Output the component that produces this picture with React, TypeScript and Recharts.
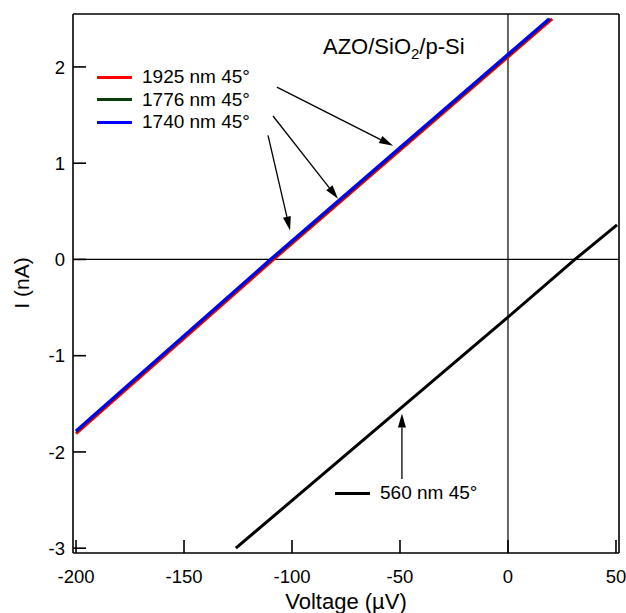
import React from "react";
import { LineChart, Line, XAxis, YAxis, ReferenceLine } from "recharts";

const X_TICKS = [-200, -150, -100, -50, 0, 50];
const Y_TICKS = [-3, -2, -1, 0, 1, 2];

// voltage (µV) / current (nA)
const V_1925 = [-200, -108.5, 20.5];
const I_1925 = [-1.81, 0, 2.5];
const V_1776 = [-200, -109.5, 19.5];
const I_1776 = [-1.79, 0, 2.5];
const V_1740 = [-200, -110, 19];
const I_1740 = [-1.78, 0, 2.5];
const V_560 = [-126, 0, 31, 50.5];
const I_560 = [-3.0, -0.6, 0, 0.36];

const NAMES = ["1925 nm 45°", "1776 nm 45°", "1740 nm 45°", "560 nm 45°"];

// annotation arrows: tail (v, i) -> head (v, i)
const ARROW_TAIL_V = [-107, -108.8, -111.1, -49.1];
const ARROW_TAIL_I = [1.79, 1.49, 1.29, -2.28];
const ARROW_HEAD_V = [-53.2, -78.7, -100.9, -49.1];
const ARROW_HEAD_I = [1.18, 0.63, 0.3, -1.6];

const COLORS = ["#ff0000", "#0b3d0b", "#0000ff", "#000000"];
const FONT = "'Liberation Sans', Arial, sans-serif";

const toPts = (v: number[], i: number[]) => v.map((x, k) => ({ v: x, i: i[k] }));
const SERIES = [
  toPts(V_1925, I_1925),
  toPts(V_1776, I_1776),
  toPts(V_1740, I_1740),
  toPts(V_560, I_560),
];

function Arrow(props: any) {
  const { x1, y1, x2, y2 } = props;
  if (x1 == null) return null;
  const dx = x2 - x1;
  const dy = y2 - y1;
  const len = Math.sqrt(dx * dx + dy * dy) || 1;
  const ux = dx / len;
  const uy = dy / len;
  const hl = 14;
  const hw = 4;
  const bx = x2 - ux * hl;
  const by = y2 - uy * hl;
  return (
    <g>
      <line x1={x1} y1={y1} x2={bx} y2={by} stroke="#000" strokeWidth={1.3} />
      <polygon
        points={`${x2},${y2} ${bx - uy * hw},${by + ux * hw} ${bx + uy * hw},${by - ux * hw}`}
        fill="#000"
      />
    </g>
  );
}

function Swatch({ color, label }: { color: string; label: string }) {
  return (
    <div style={{ display: "flex", alignItems: "center", height: 22.5 }}>
      <span style={{ width: 35, height: 3, background: color, display: "inline-block" }} />
      <span style={{ marginLeft: 10 }}>{label}</span>
    </div>
  );
}

export default function App() {
  const axisLine = { stroke: "#000", strokeWidth: 1.6 };
  const tickStyle = { fill: "#000", fontSize: 18.5, fontFamily: FONT };
  return (
    <div
      style={{
        position: "absolute",
        left: 0,
        top: 0,
        width: 626,
        height: 613,
        background: "#fff",
        fontFamily: FONT,
        color: "#000",
      }}
    >
      <LineChart width={626} height={613} margin={{ top: 0, right: 0, bottom: 0, left: 0 }}>
        <XAxis
          type="number"
          dataKey="v"
          domain={[-201.4, 51.4]}
          ticks={X_TICKS}
          allowDataOverflow
          height={60}
          tickSize={-13}
          tickMargin={30}
          axisLine={axisLine}
          tickLine={axisLine}
          tick={tickStyle}
          label={{
            value: "Voltage (µV)",
            position: "insideBottom",
            offset: 4,
            style: { fill: "#000", fontSize: 22, fontFamily: FONT },
          }}
        />
        <XAxis
          xAxisId="top"
          orientation="top"
          type="number"
          domain={[-201.4, 51.4]}
          ticks={X_TICKS}
          allowDataOverflow
          height={14}
          tickSize={-13}
          axisLine={axisLine}
          tickLine={axisLine}
          tick={false}
        />
        <YAxis
          type="number"
          domain={[-3.05, 2.55]}
          ticks={Y_TICKS}
          allowDataOverflow
          width={73}
          tickSize={-13}
          tickMargin={21}
          axisLine={axisLine}
          tickLine={axisLine}
          tick={tickStyle}
        />
        <YAxis
          yAxisId="right"
          orientation="right"
          type="number"
          domain={[-3.05, 2.55]}
          ticks={Y_TICKS}
          allowDataOverflow
          width={7}
          tickSize={-13}
          axisLine={axisLine}
          tickLine={axisLine}
          tick={false}
        />
        <ReferenceLine x={0} stroke="#000" strokeWidth={1.2} />
        <ReferenceLine y={0} stroke="#000" strokeWidth={1.2} />
        {SERIES.map((d, k) => (
          <Line
            key={NAMES[k]}
            data={d}
            dataKey="i"
            name={NAMES[k]}
            stroke={COLORS[k]}
            strokeWidth={3}
            dot={false}
            activeDot={false}
            isAnimationActive={false}
          />
        ))}
        {ARROW_TAIL_V.map((v, k) => (
          <ReferenceLine
            key={"a" + k}
            segment={[
              { x: v, y: ARROW_TAIL_I[k] },
              { x: ARROW_HEAD_V[k], y: ARROW_HEAD_I[k] },
            ]}
            shape={<Arrow />}
          />
        ))}
      </LineChart>

      <div style={{ position: "absolute", left: 97, top: 66, fontSize: 19 }}>
        {NAMES.slice(0, 3).map((n, k) => (
          <Swatch key={n} color={COLORS[k]} label={n} />
        ))}
      </div>
      <div style={{ position: "absolute", left: 335, top: 482, fontSize: 19 }}>
        <Swatch color={COLORS[3]} label={NAMES[3]} />
      </div>
      <div style={{ position: "absolute", left: 323, top: 34, fontSize: 22 }}>
        AZO/SiO<sub style={{ fontSize: 15 }}>2</sub>/p-Si
      </div>
      <div
        style={{
          position: "absolute",
          left: 22,
          top: 283,
          fontSize: 21,
          whiteSpace: "nowrap",
          transform: "translate(-50%, -50%) rotate(-90deg)",
        }}
      >
        I (nA)
      </div>
    </div>
  );
}
